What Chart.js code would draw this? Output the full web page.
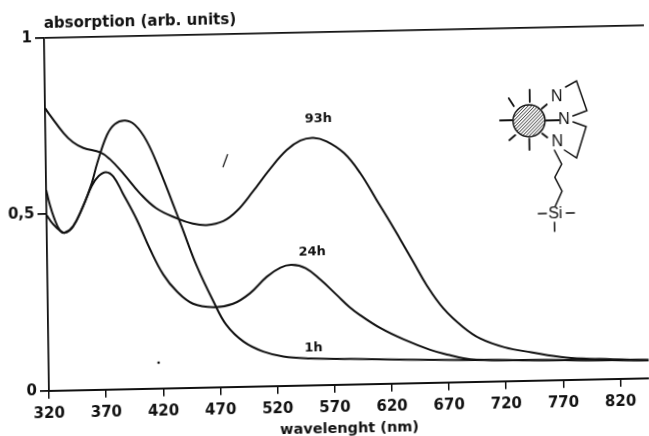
<!DOCTYPE html>
<html>
<head>
<meta charset="utf-8">
<title>absorption</title>
<script src="https://cdn.jsdelivr.net/npm/chart.js@4"></script>
<style>
  html, body { margin: 0; padding: 0; background: #fff; overflow: hidden; height: 436px; }
  /* the original is a slightly crooked scan, so the whole canvas leans with it */
  #chart { display: block; transform-origin: 49px 390.7px; transform: matrix(1, -0.021, 0.014, 1, 0, 0); }
</style>
</head>
<body>
<canvas id="chart" width="649" height="460"></canvas>
<script>
const TICKS_X = [320, 370, 420, 470, 520, 570, 620, 670, 720, 770, 820];
const TICKS_Y = [0, 0.5, 1];

const WL_93H  = [320, 324, 336, 344, 353, 368, 376, 388, 402, 416, 434, 448, 460, 474.5, 486.5, 501, 516, 531, 543, 554.5, 566, 581, 595, 609, 621, 629, 640.5, 652, 666, 683, 698, 719, 742.5, 773, 802, 845];
const ABS_93H = [.801, .782, .729, .703, .686, .672, .653, .610, .554, .511, .481, .465, .460, .470, .498, .553, .615, .668, .694, .701, .690, .656, .598, .521, .455, .409, .342, .275, .210, .156, .122, .096, .080, .063, .057, .051];

const WL_24H  = [320, 322.6, 326.5, 331.6, 336, 343, 352, 360, 366, 372.5, 379, 387, 399, 410, 421.5, 433, 447, 465, 482, 497, 512, 524, 534, 546, 559, 573, 584, 593, 610.5, 631, 654, 671, 683, 694.5, 741, 802, 845];
const ABS_24H = [.569, .532, .490, .453, .447, .464, .520, .578, .605, .616, .603, .555, .479, .396, .322, .274, .238, .227, .235, .264, .310, .335, .342, .332, .298, .254, .219, .196, .158, .124, .093, .077, .067, .062, .058, .054, .051];

const WL_1H  = [320, 325.5, 331.6, 336, 343, 352, 360, 365, 374, 381, 390, 398.5, 408.5, 420, 431, 438, 451, 465, 476, 491, 508, 525.5, 549, 584, 682.5, 741, 802, 845];
const ABS_1H = [.498, .472, .453, .447, .464, .520, .586, .642, .722, .752, .761, .748, .702, .615, .520, .458, .343, .243, .176, .127, .098, .083, .076, .072, .062, .058, .054, .051];

const CURVE_LABELS = ['93h', '24h', '1h'];
const LABEL_WL  = [559, 552, 552];
const LABEL_ABS = [.754, .378, .105];

const INK = '#111';
const FONT = '"DejaVu Sans", sans-serif';

function toPoints(xs, ys) {
  return xs.map((x, i) => ({ x: x, y: ys[i] }));
}

function curve(xs, ys) {
  return {
    data: toPoints(xs, ys),
    borderColor: INK,
    borderWidth: 2,
    pointRadius: 0,
    fill: false,
    tension: 0.4,
  };
}

function line(ctx, pts) {
  ctx.beginPath();
  pts.forEach((p, i) => { if (i === 0) ctx.moveTo(p[0], p[1]); else ctx.lineTo(p[0], p[1]); });
  ctx.stroke();
}

function drawMolecule(ctx) {
  const cx = 529, cy = 121, r = 16;
  ctx.save();
  ctx.translate(3.8, 10);  // undo the canvas lean up here
  ctx.strokeStyle = INK;
  ctx.fillStyle = INK;
  ctx.lineCap = 'round';

  // hatched particle
  ctx.save();
  ctx.beginPath();
  ctx.arc(cx, cy, r, 0, Math.PI * 2);
  ctx.clip();
  ctx.lineWidth = 0.9;
  for (let d = -36; d <= 36; d += 3.4) line(ctx, [[cx + d - 24, cy + 24], [cx + d + 24, cy - 24]]);
  ctx.restore();
  ctx.lineWidth = 1.5;
  ctx.beginPath();
  ctx.arc(cx, cy, r, 0, Math.PI * 2);
  ctx.stroke();

  // spikes
  ctx.lineWidth = 1.8;
  line(ctx, [[530, 90], [530, 102]]);
  line(ctx, [[509, 98], [514, 106]]);
  line(ctx, [[500, 120], [512, 120]]);
  line(ctx, [[509, 140], [515, 135]]);
  line(ctx, [[529, 139], [529, 150]]);

  // arrows to the nitrogens
  line(ctx, [[547, 105], [542, 109]]);
  line(ctx, [[559, 121], [546, 121]]);
  line(ctx, [[547, 138], [542, 134]]);
  ctx.lineWidth = 1.5;

  // rings and chain
  line(ctx, [[566, 88], [577, 82], [587, 112], [573, 117]]);
  line(ctx, [[573, 123], [586, 128], [576, 159], [564, 151]]);
  line(ctx, [[554, 151], [561, 165], [554, 178], [561, 192], [554, 207]]);
  line(ctx, [[537, 214], [545, 214]]);
  line(ctx, [[565, 214], [573, 214]]);
  line(ctx, [[553, 223], [553, 232]]);

  ctx.font = '16px "Liberation Sans", sans-serif';
  ctx.textAlign = 'center';
  ctx.textBaseline = 'middle';
  ctx.fillText('N', 557, 98);
  ctx.fillText('N', 564, 121);
  ctx.fillText('N', 557, 143);
  ctx.fillText('Si', 554, 215);
  ctx.restore();
}

// specks from the scan
function drawSpecks(ctx) {
  ctx.save();
  ctx.strokeStyle = INK;
  ctx.fillStyle = INK;
  ctx.lineWidth = 1.2;
  line(ctx, [[226, 171], [231, 158]]);
  ctx.beginPath();
  ctx.arc(159, 365, 1.3, 0, Math.PI * 2);
  ctx.fill();
  ctx.restore();
}

const extras = {
  id: 'extras',
  afterDraw(chart) {
    const ctx = chart.ctx;
    const sx = chart.scales.x, sy = chart.scales.y;
    ctx.save();
    ctx.fillStyle = INK;
    ctx.textAlign = 'center';
    ctx.textBaseline = 'middle';
    ctx.font = 'bold 13px ' + FONT;
    CURVE_LABELS.forEach((t, i) => {
      ctx.fillText(t, sx.getPixelForValue(LABEL_WL[i]), sy.getPixelForValue(LABEL_ABS[i]));
    });
    ctx.textAlign = 'left';
    ctx.font = 'bold 15px ' + FONT;
    ctx.fillText('absorption (arb. units)', 49, 24);
    ctx.restore();
    drawMolecule(ctx);
    drawSpecks(ctx);
  }
};

new Chart(document.getElementById('chart'), {
  type: 'line',
  data: {
    datasets: [curve(WL_93H, ABS_93H), curve(WL_24H, ABS_24H), curve(WL_1H, ABS_1H)]
  },
  options: {
    responsive: false,
    animation: false,
    layout: { padding: { top: 38, right: 0, left: 0, bottom: 0 } },
    plugins: { legend: { display: false }, tooltip: { enabled: false } },
    scales: {
      x: {
        type: 'linear',
        min: 320,
        max: 845,
        afterBuildTicks(scale) { scale.ticks = TICKS_X.map(v => ({ value: v })); },
        afterFit(scale) { scale.height = 69.3; },
        grid: { drawOnChartArea: false, color: INK, tickLength: 8, lineWidth: 1.5 },
        border: { color: INK, width: 2 },
        ticks: {
          color: INK,
          font: { family: FONT, size: 15, weight: 'bold' },
          padding: 6,
          maxRotation: 0,
          autoSkip: false,
          callback: v => String(v),
        },
        title: {
          display: true,
          text: 'wavelenght (nm)',
          color: INK,
          font: { family: FONT, size: 14.5, weight: 'bold' },
          padding: { top: 0, bottom: 16 },
        },
      },
      y: {
        type: 'linear',
        min: 0,
        max: 1,
        afterBuildTicks(scale) { scale.ticks = TICKS_Y.map(v => ({ value: v })); },
        afterFit(scale) { scale.width = 49; },
        grid: {
          color: c => (c.tick && c.tick.value === 1 ? INK : 'rgba(0,0,0,0)'),
          tickColor: INK,
          tickLength: 9,
          lineWidth: 1.8,
        },
        border: { color: INK, width: 1.8 },
        ticks: {
          color: INK,
          font: { family: FONT, size: 15, weight: 'bold' },
          padding: 3,
          callback: v => String(v).replace('.', ','),
        },
      },
    },
  },
  plugins: [extras],
});
</script>
</body>
</html>
